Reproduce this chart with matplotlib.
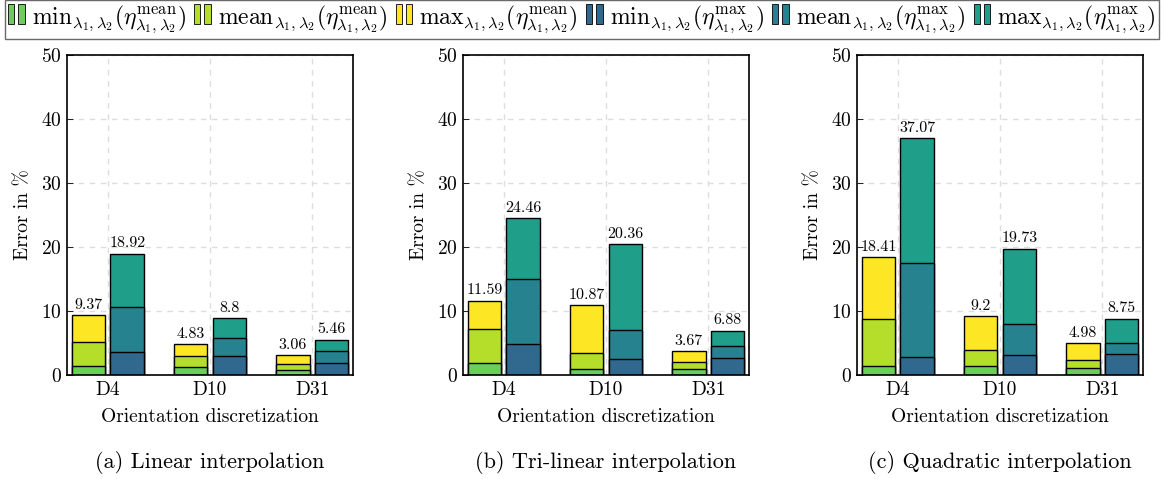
import matplotlib
matplotlib.use("Agg")
import matplotlib.pyplot as plt
from matplotlib.patches import Rectangle
from matplotlib.legend_handler import HandlerBase
import numpy as np

plt.rcParams['font.family'] = ['cmr10', 'DejaVu Serif']
plt.rcParams['mathtext.fontset'] = 'cm'
plt.rcParams['axes.formatter.use_mathtext'] = True

categories = ["D4", "D10", "D31"]
titles = ["(a) Linear interpolation", "(b) Tri-linear interpolation", "(c) Quadratic interpolation"]

# eta_mean: min / mean / max over lambda1, lambda2
mean_min = [[1.3, 1.2, 0.68], [1.89, 0.84, 0.89], [1.41, 1.3, 1.1]]
mean_mean = [[5.1, 2.83, 1.73], [7.17, 3.4, 2.04], [8.75, 3.9, 2.34]]
mean_max = [[9.37, 4.83, 3.06], [11.59, 10.87, 3.67], [18.41, 9.2, 4.98]]
# eta_max: min / mean / max over lambda1, lambda2
max_min = [[3.46, 2.93, 1.89], [4.71, 2.46, 2.67], [2.81, 3.13, 3.28]]
max_mean = [[10.6, 5.66, 3.67], [14.9, 6.9, 4.55], [17.5, 7.92, 5.0]]
max_max = [[18.92, 8.8, 5.46], [24.46, 20.36, 6.88], [37.07, 19.73, 8.75]]

colors_left = ['#6ccd5a', '#b5de2b', '#fde725']
colors_right = ['#31688e', '#26828e', '#1f9e89']

legend_labels = [
    r'$\mathrm{min}_{\lambda_1,\lambda_2}(\eta^{\mathrm{mean}}_{\lambda_1,\lambda_2})$',
    r'$\mathrm{mean}_{\lambda_1,\lambda_2}(\eta^{\mathrm{mean}}_{\lambda_1,\lambda_2})$',
    r'$\mathrm{max}_{\lambda_1,\lambda_2}(\eta^{\mathrm{mean}}_{\lambda_1,\lambda_2})$',
    r'$\mathrm{min}_{\lambda_1,\lambda_2}(\eta^{\mathrm{max}}_{\lambda_1,\lambda_2})$',
    r'$\mathrm{mean}_{\lambda_1,\lambda_2}(\eta^{\mathrm{max}}_{\lambda_1,\lambda_2})$',
    r'$\mathrm{max}_{\lambda_1,\lambda_2}(\eta^{\mathrm{max}}_{\lambda_1,\lambda_2})$',
]


class TwoBars(HandlerBase):
    def create_artists(self, legend, orig, xd, yd, w, h, fs, trans):
        c = orig.get_facecolor()
        bw = w * 0.38
        r1 = Rectangle((xd, yd - 1), bw, h + 2, facecolor=c, edgecolor='black', lw=0.6, transform=trans)
        r2 = Rectangle((xd + w - bw, yd - 1), bw, h + 2, facecolor=c, edgecolor='black', lw=0.6, transform=trans)
        return [r1, r2]


fig = plt.figure(figsize=(11.64, 4.79), dpi=100)
lefts = [0.0576, 0.3978, 0.7363]
x = np.arange(len(categories))
width = 0.33
off = 0.19

handles = []
for p in range(3):
    ax = fig.add_axes([lefts[p], 0.218, 0.2457, 0.667])
    ax.set_axisbelow(True)
    ax.grid(True, color='#dddddd', linestyle=(0, (4, 4)), lw=1)
    # overlaid bars, largest drawn first
    for vals, col in zip([mean_max[p], mean_mean[p], mean_min[p]], colors_left[::-1]):
        b = ax.bar(x - off, vals, width, color=col, edgecolor='black', lw=1)
        if p == 0:
            handles.append(b)
    for vals, col in zip([max_max[p], max_mean[p], max_min[p]], colors_right[::-1]):
        b = ax.bar(x + off, vals, width, color=col, edgecolor='black', lw=1)
        if p == 0:
            handles.append(b)
    for i in range(3):
        ax.text(x[i] - off, mean_max[p][i] + 0.5, f"{mean_max[p][i]:g}", ha='center', va='bottom', fontsize=11.5)
        ax.text(x[i] + off, max_max[p][i] + 0.5, f"{max_max[p][i]:g}", ha='center', va='bottom', fontsize=11.5)
    ax.set_xlim(-0.4, 2.4)
    ax.set_ylim(0, 50)
    ax.set_xticks(x)
    ax.set_xticklabels(categories)
    ax.set_yticks([0, 10, 20, 30, 40, 50])
    ax.tick_params(labelsize=14, direction='in', length=4, width=0.6, pad=4)
    ax.tick_params(axis='x', length=0, pad=5)
    for s in ax.spines.values():
        s.set_linewidth(1.2)
    ax.set_xlabel("Orientation discretization", fontsize=14, labelpad=6)
    ax.set_ylabel("Error in %", fontsize=14, labelpad=6)
    ax.text(0.5, -0.24, titles[p], transform=ax.transAxes, ha='center', va='top', fontsize=16)

order = [2, 1, 0, 5, 4, 3]
hs = [handles[i].patches[0] for i in order]
leg = fig.legend(hs, legend_labels, loc='center', bbox_to_anchor=(0.5, 0.96), ncol=6,
                 fontsize=17, frameon=True, fancybox=False, edgecolor='#444444',
                 handler_map={Rectangle: TwoBars()}, handlelength=0.7, handleheight=0.8,
                 handletextpad=0.3, columnspacing=0.35, borderpad=0.15, borderaxespad=0)
leg.get_frame().set_linewidth(1.0)

fig.savefig("out.png", dpi=100)
